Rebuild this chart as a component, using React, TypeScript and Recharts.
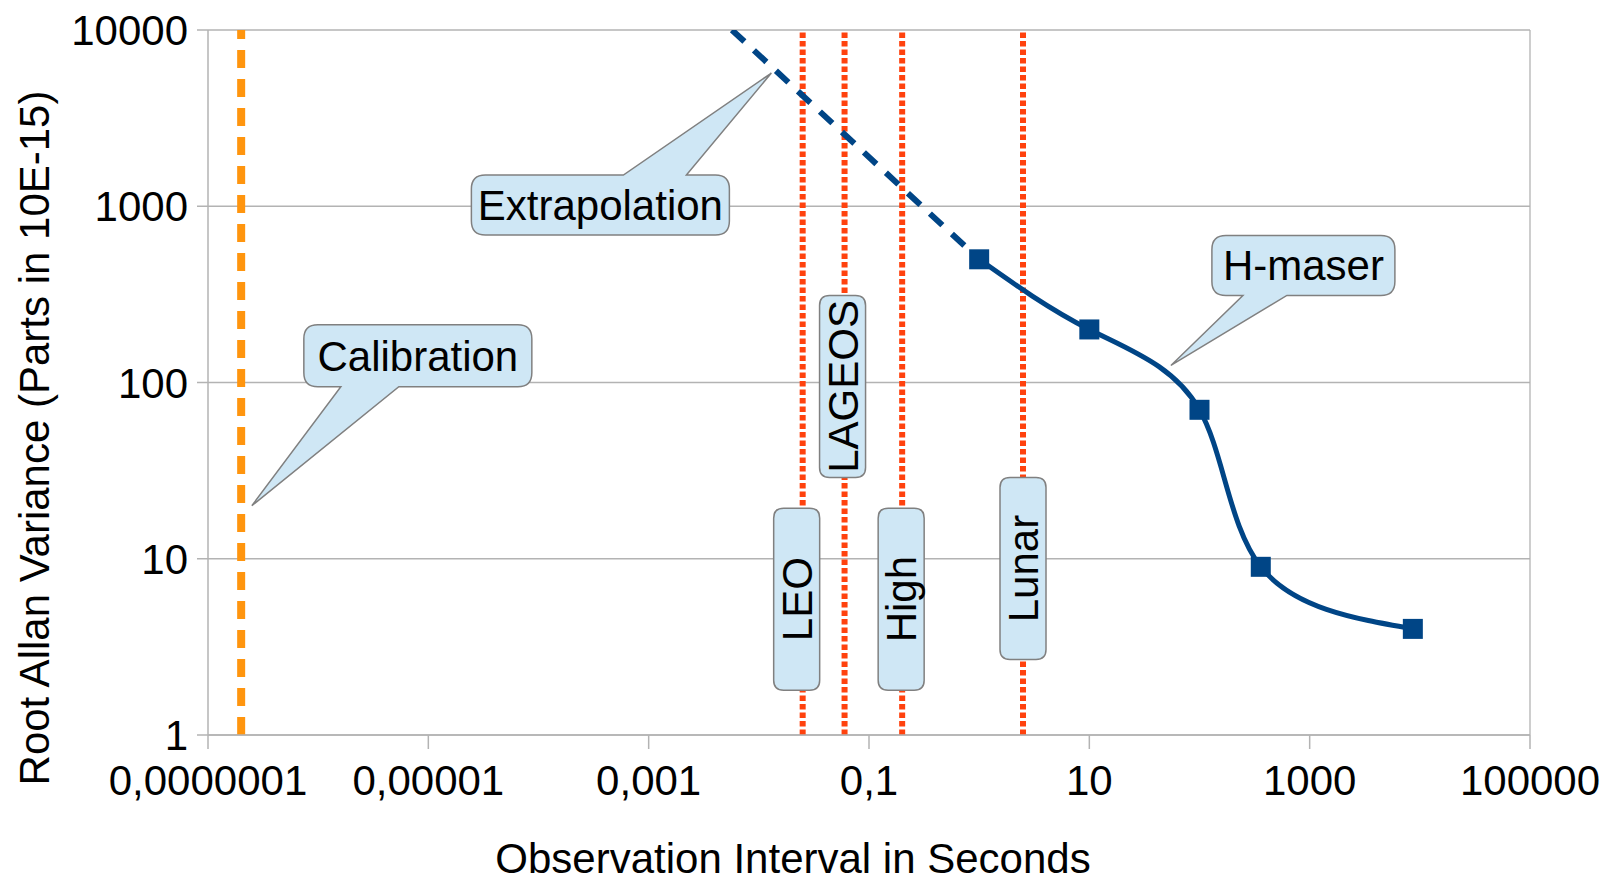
import {
  ComposedChart,
  Line,
  XAxis,
  YAxis,
  CartesianGrid,
  ReferenceLine,
  ReferenceDot,
  Label,
} from "recharts";

// axis ticks
const xTicks = [1e-7, 1e-5, 1e-3, 0.1, 10, 1000, 100000];
const xTickLabels = ["0,0000001", "0,00001", "0,001", "0,1", "10", "1000", "100000"];
const yTicks = [1, 10, 100, 1000, 10000];
const yTickLabels = ["1", "10", "100", "1000", "10000"];

// H-maser measurements
const maserX = [1, 10, 100, 360, 8640];
const maserY = [500, 200, 70, 9, 4];

// dashed extrapolation towards short intervals
const extrapX = [0.0057, 1];
const extrapY = [10000, 500];

// calibration interval
const calibrationX = 2e-7;

// ranging targets (vertical dotted lines)
const rangeNames = ["LEO", "LAGEOS", "High", "Lunar"];
const rangeX = [0.025, 0.06, 0.2, 2.5];
const rangeLabelY = [5.9, 95, 5.9, 8.8];

// callouts, anchored at the tip of their pointer
const calloutNames = ["Calibration", "Extrapolation", "H-maser"];
const calloutX = [2.5e-7, 0.013, 55];
const calloutY = [20, 5700, 125];

const FONT = '"Liberation Sans", Arial, Helvetica, sans-serif';
const BLUE = "#004586";
const ORANGE = "#ff950e";
const RED = "#ff420e";
const GRID = "#b3b3b3";
const BOX_FILL = "#cfe7f5";
const BOX_STROKE = "#808080";

const maserData = maserX.map((x, i) => ({ x, y: maserY[i] }));
const extrapData = extrapX.map((x, i) => ({ x, y: extrapY[i] }));

// box geometry relative to the pointer tip (pixels)
const calloutBoxes = [
  { dx: 52, dy: -181, w: 228, h: 62, side: "bottom", b1: 89, b2: 147 },
  { dx: -300, dy: 102, w: 258, h: 60, side: "top", b1: -148, b2: -85 },
  { dx: 41, dy: -130, w: 183, h: 60, side: "bottom", b1: 72, b2: 116 },
];
const rangeBoxOffset = [-6, -2, -1, 0];

type Tail = { side: string; x1: number; x2: number; tx: number; ty: number };

function boxPath(x: number, y: number, w: number, h: number, r: number, tail?: Tail) {
  let d = `M ${x + r} ${y}`;
  if (tail && tail.side === "top") {
    d += ` L ${tail.x1} ${y} L ${tail.tx} ${tail.ty} L ${tail.x2} ${y}`;
  }
  d += ` L ${x + w - r} ${y} Q ${x + w} ${y} ${x + w} ${y + r}`;
  d += ` L ${x + w} ${y + h - r} Q ${x + w} ${y + h} ${x + w - r} ${y + h}`;
  if (tail && tail.side === "bottom") {
    d += ` L ${tail.x2} ${y + h} L ${tail.tx} ${tail.ty} L ${tail.x1} ${y + h}`;
  }
  d += ` L ${x + r} ${y + h} Q ${x} ${y + h} ${x} ${y + h - r}`;
  d += ` L ${x} ${y + r} Q ${x} ${y} ${x + r} ${y} Z`;
  return d;
}

const makeCallout = (i: number) => (props: any) => {
  const { cx, cy } = props;
  const b = calloutBoxes[i];
  const x = cx + b.dx;
  const y = cy + b.dy;
  const d = boxPath(x, y, b.w, b.h, 14, {
    side: b.side,
    x1: cx + b.b1,
    x2: cx + b.b2,
    tx: cx,
    ty: cy,
  });
  return (
    <g>
      <path d={d} fill={BOX_FILL} stroke={BOX_STROKE} strokeWidth={1.5} />
      <text
        x={x + b.w / 2}
        y={y + b.h / 2 + 15}
        textAnchor="middle"
        fontSize={42}
        fontFamily={FONT}
        fill="#000"
      >
        {calloutNames[i]}
      </text>
    </g>
  );
};

const makeRangeLabel = (i: number) => (props: any) => {
  const cx = props.cx + rangeBoxOffset[i];
  const cy = props.cy;
  const w = 46;
  const h = 182;
  return (
    <g>
      <path
        d={boxPath(cx - w / 2, cy - h / 2, w, h, 10)}
        fill={BOX_FILL}
        stroke={BOX_STROKE}
        strokeWidth={1.5}
      />
      <text
        x={cx + 15}
        y={cy}
        transform={`rotate(-90, ${cx + 15}, ${cy})`}
        textAnchor="middle"
        fontSize={42}
        fontFamily={FONT}
        fill="#000"
      >
        {rangeNames[i]}
      </text>
    </g>
  );
};

const XTick = (props: any) => {
  const { x, y, payload } = props;
  const i = xTicks.indexOf(payload.value);
  return (
    <text x={x} y={y} dy={40} textAnchor="middle" fontSize={42} fontFamily={FONT} fill="#000">
      {i >= 0 ? xTickLabels[i] : String(payload.value)}
    </text>
  );
};

const YTick = (props: any) => {
  const { x, y, payload } = props;
  const i = yTicks.indexOf(payload.value);
  return (
    <text x={x} y={y} dy={15} textAnchor="end" fontSize={42} fontFamily={FONT} fill="#000">
      {i >= 0 ? yTickLabels[i] : String(payload.value)}
    </text>
  );
};

const XTitle = () => (
  <text x={793} y={873} textAnchor="middle" fontSize={42} fontFamily={FONT} fill="#000">
    Observation Interval in Seconds
  </text>
);

const YTitle = () => (
  <text
    x={49}
    y={438}
    transform="rotate(-90, 49, 438)"
    textAnchor="middle"
    fontSize={42}
    fontFamily={FONT}
    fill="#000"
  >
    Root Allan Variance (Parts in 10E-15)
  </text>
);

const SquareDot = (props: any) => {
  const { cx, cy, index } = props;
  if (cx == null || cy == null) return <g key={`d-${index}`} />;
  return <rect key={`d-${index}`} x={cx - 10} y={cy - 10} width={20} height={20} fill={BLUE} />;
};

export default function App() {
  return (
    <div style={{ position: "absolute", left: 0, top: 0, background: "#fff" }}>
      <ComposedChart
        width={1607}
        height={881}
        margin={{ top: 30, right: 77, bottom: 0, left: 0 }}
        style={{ fontFamily: FONT }}
      >
        <CartesianGrid vertical={false} stroke={GRID} strokeWidth={1.3} />
        <XAxis
          type="number"
          dataKey="x"
          scale="log"
          domain={[1e-7, 100000]}
          ticks={xTicks}
          interval={0}
          allowDataOverflow
          height={146}
          tickSize={14}
          tickMargin={6}
          tick={<XTick />}
          stroke={GRID}
          strokeWidth={1.5}
        >
          <Label content={<XTitle />} />
        </XAxis>
        <YAxis
          type="number"
          dataKey="y"
          scale="log"
          domain={[1, 10000]}
          ticks={yTicks}
          interval={0}
          allowDataOverflow
          width={208}
          tickSize={11}
          tickMargin={9}
          tick={<YTick />}
          stroke={GRID}
          strokeWidth={1.5}
        >
          <Label content={<YTitle />} />
        </YAxis>
        <ReferenceLine x={100000} stroke={GRID} strokeWidth={1.3} />
        {rangeX.map((x, i) => (
          <ReferenceLine
            key={`r-${i}`}
            x={x}
            stroke={RED}
            strokeWidth={6}
            strokeDasharray="5.5 3"
            zIndex={350}
          />
        ))}
        <ReferenceLine
          x={calibrationX}
          stroke={ORANGE}
          strokeWidth={8}
          strokeDasharray="18 11"
          zIndex={350}
        />
        <Line
          data={extrapData}
          dataKey="y"
          type="linear"
          stroke={BLUE}
          strokeWidth={6}
          strokeDasharray="17 13"
          dot={false}
          activeDot={false}
          isAnimationActive={false}
        />
        <Line
          data={maserData}
          dataKey="y"
          type="natural"
          stroke={BLUE}
          strokeWidth={5}
          dot={<SquareDot />}
          activeDot={false}
          isAnimationActive={false}
        />
        {rangeX.map((x, i) => (
          <ReferenceDot
            key={`rl-${i}`}
            x={x}
            y={rangeLabelY[i]}
            r={0}
            ifOverflow="visible"
            shape={makeRangeLabel(i)}
            zIndex={700}
          />
        ))}
        {calloutX.map((x, i) => (
          <ReferenceDot
            key={`c-${i}`}
            x={x}
            y={calloutY[i]}
            r={0}
            ifOverflow="visible"
            shape={makeCallout(i)}
            zIndex={700}
          />
        ))}
      </ComposedChart>
    </div>
  );
}
